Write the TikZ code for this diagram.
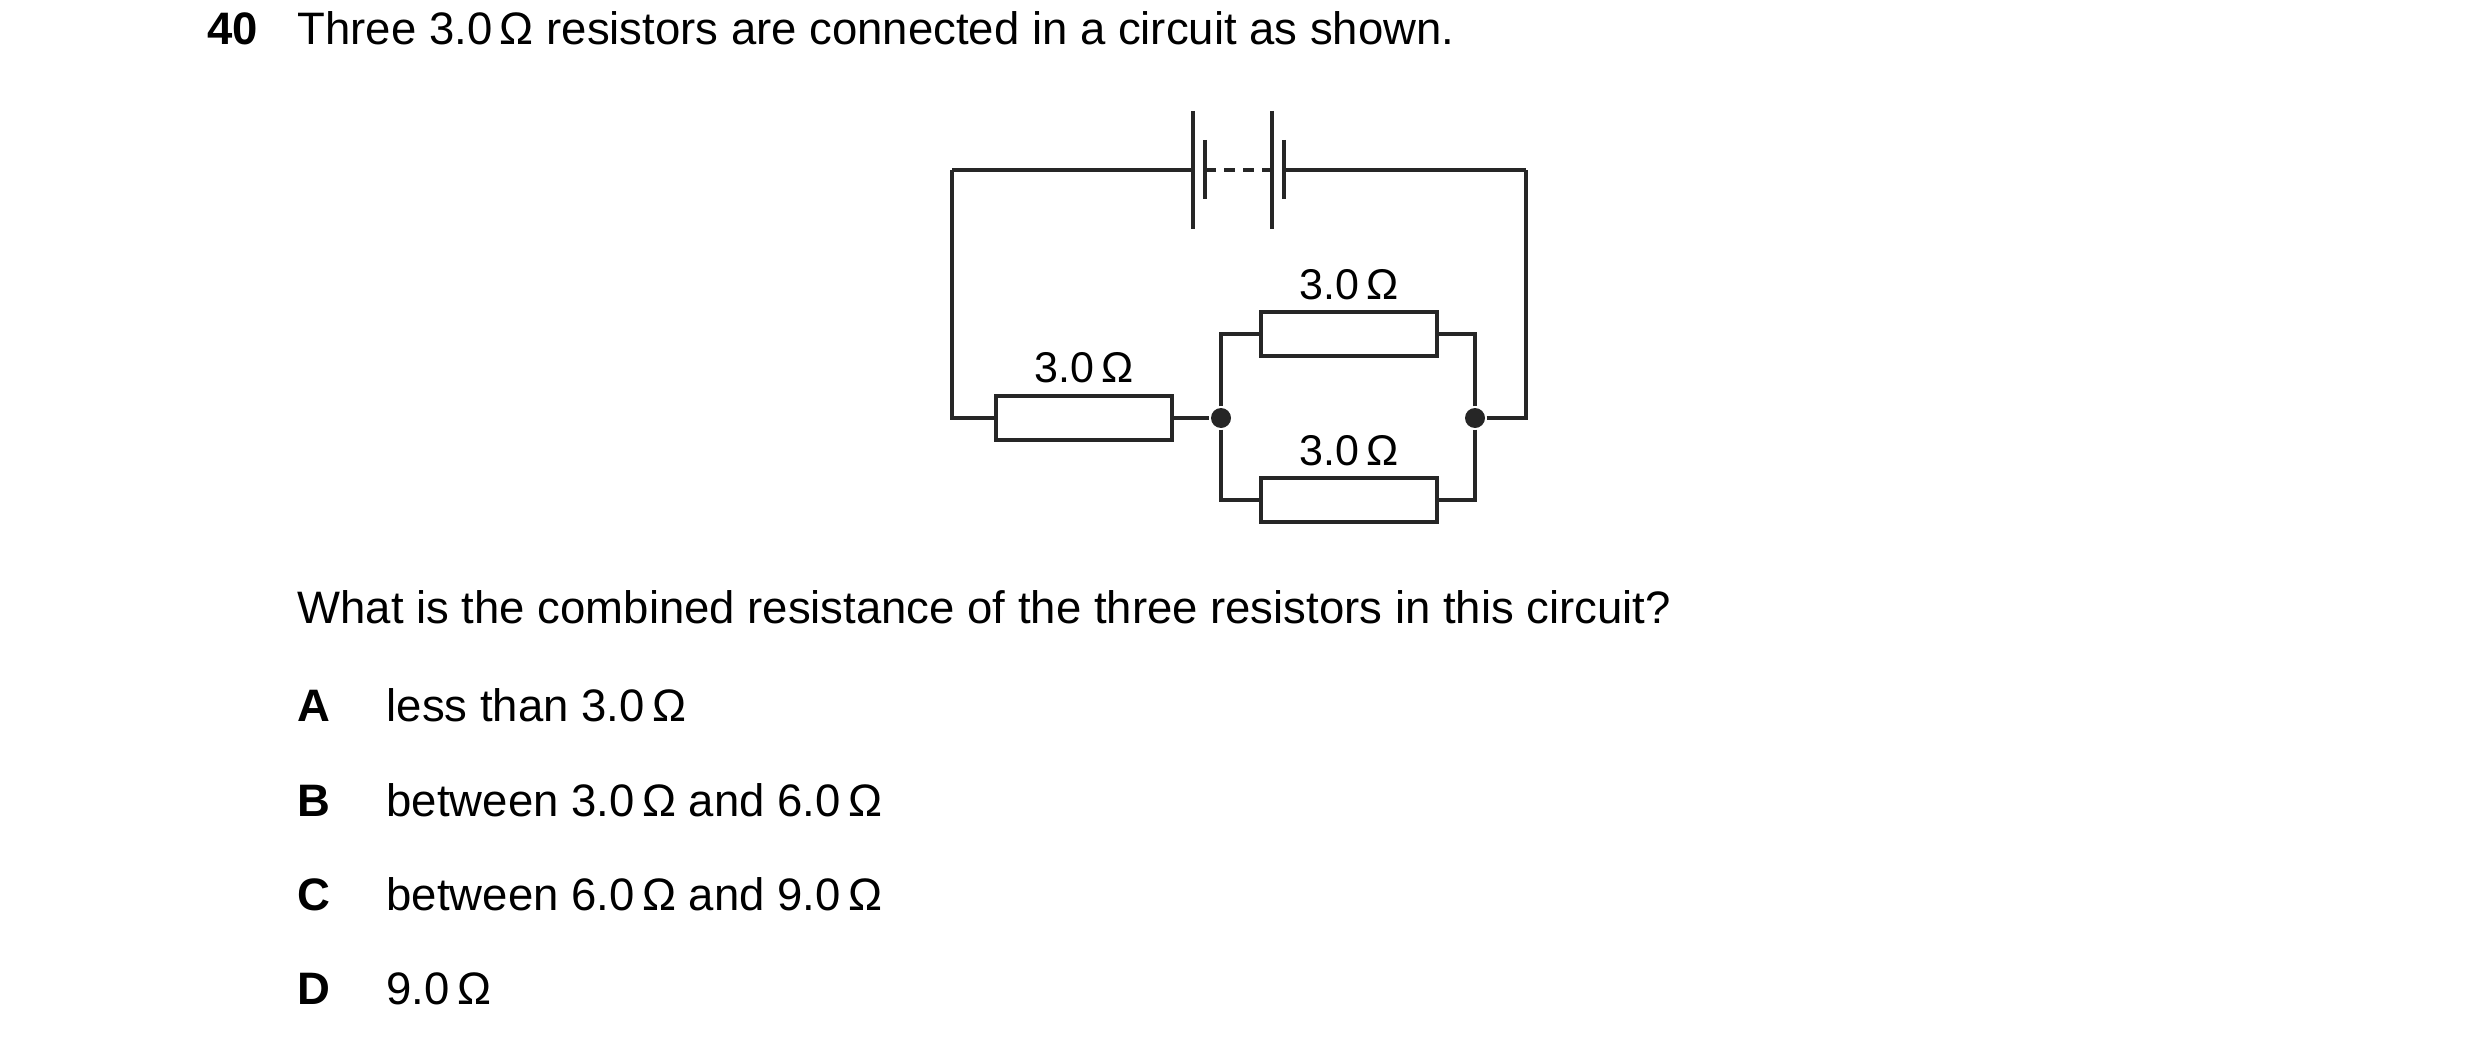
\documentclass[tikz,border=0pt]{standalone}
\usepackage{fontspec}
\setmainfont{Liberation Sans}
\begin{document}
\begin{tikzpicture}[x=1pt,y=-1pt,line width=3.2pt,
  wire/.style={draw=black!85},
  res/.style={draw=black!85,fill=white,minimum width=176pt,minimum height=44pt,inner sep=0pt},
  lab/.style={font=\fontsize{43}{50}\selectfont,anchor=base},
  txt/.style={font=\fontsize{45.5}{52}\selectfont,anchor=base west,inner sep=0pt},
  bold/.style={font=\fontsize{45.5}{52}\selectfont\bfseries,anchor=base west,inner sep=0pt},
  dot/.style={circle,fill=black!85,inner sep=0pt,minimum size=20pt}]
\useasboundingbox (0,0) rectangle (2480,1043);
\node[bold] (q) at (206,45) {40};
\node[txt] (t) at (296,45) {Three 3.0\,Ω resistors are connected in a circuit as shown.};
% battery
\coordinate (TL) at (952,170); \coordinate (TR) at (1526,170);
\coordinate (BL) at (952,418); \coordinate (BR) at (1526,418);
\coordinate (b1) at (1193,170); \coordinate (b4) at (1284,170);
\draw[wire] (TL) -- (b1);
\draw[wire] (b4) -- (TR);
\draw[wire] (1193,111) -- (1193,229);
\draw[wire] (1205,140) -- (1205,199);
\draw[wire] (1272,111) -- (1272,229);
\draw[wire] (1284,140) -- (1284,199);
\draw[wire,dash pattern=on 11pt off 8pt] (1205,170) -- (1272,170);
% resistors
\node[res] (R1) at (1084,418) {};
\node[dot] (n1) at (1221,418) {};
\node[dot] (n2) at (1475,418) {};
\node[res] (R2) at (1349,334) {};
\node[res] (R3) at (1349,500) {};
\draw[wire] (TL) -- (BL) -- (R1.west);
\draw[wire] (R1.east) -- (n1);
\draw[wire] (n2) -- (BR) -- (TR);
\draw[wire] (n1) |- (R2.west);
\draw[wire] (n1) |- (R3.west);
\draw[wire] (n2) |- (R2.east);
\draw[wire] (n2) |- (R3.east);
\node[lab] (l1) at (1084,382) {3.0\,Ω};
\node[lab] (l2) at (1349,299) {3.0\,Ω};
\node[lab] (l3) at (1349,465) {3.0\,Ω};
\node[txt] (qq) at (296,623) {What is the combined resistance of the three resistors in this circuit?};
\node[bold] (A) at (296,721) {A}; \node[txt] (a) at (385,721) {less than 3.0\,Ω};
\node[bold] (B) at (296,816) {B}; \node[txt] (b) at (385,816) {between 3.0\,Ω and 6.0\,Ω};
\node[bold] (C) at (296,910) {C}; \node[txt] (c) at (385,910) {between 6.0\,Ω and 9.0\,Ω};
\node[bold] (D) at (296,1004) {D}; \node[txt] (d) at (385,1004) {9.0\,Ω};
\end{tikzpicture}
\end{document}
